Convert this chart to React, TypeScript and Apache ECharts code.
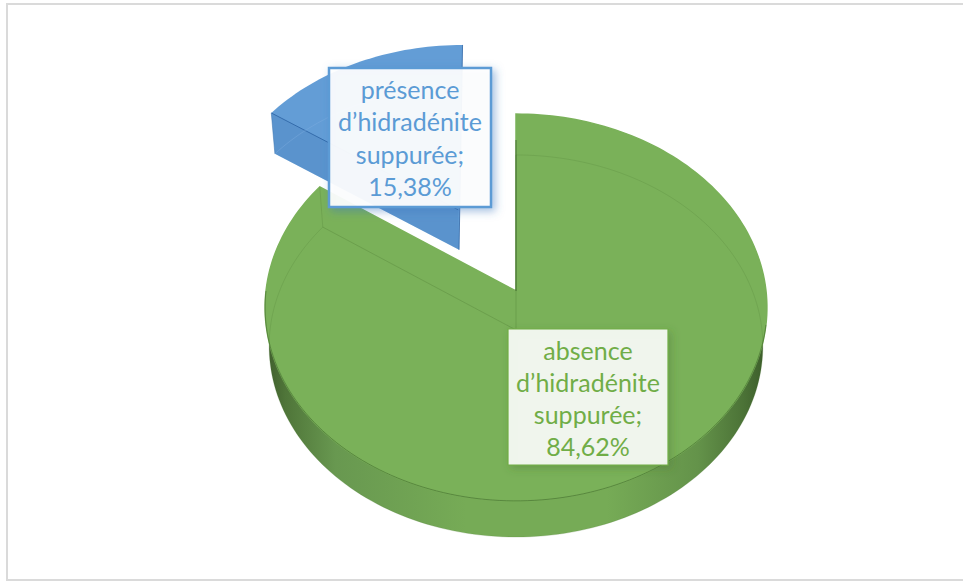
import React, { useEffect, useRef } from "react";
import * as echarts from "echarts";

// Share of patients with and without suppurative hidradenitis
const categories = ["absence\nd’hidradénite\nsuppurée", "présence\nd’hidradénite\nsuppurée"];
const values = [84.62, 15.38];
const exploded = [0, 0.5];
const faceColors = ["#7AB159", "#639DD6"];
const textColors = ["#70AD47", "#5B9BD5"];
const shadowColors = ["rgba(60,100,40,0.32)", "rgba(60,120,190,0.5)"];

// Perspective projection of the tilted disc: the top rim and the bottom rim
// have slightly different scales because the lower one is further from the eye.
const TOP = { cx: 516, cy: 291, a: 250, b: 192, k: 0.0852 };
const BOTTOM = { cx: 516, cy: 330, a: 246, b: 189.7, k: 0.0838 };
type Plane = typeof TOP;

// The wedge is pulled out about a degree off its bisector
const EXPLODE_TURN = (1 * Math.PI) / 180;

const project = (p: Plane, u: number, v: number): number[] => {
  const w = 1 - p.k * v;
  return [p.cx + (p.a * u) / w, p.cy + (p.b * v) / w];
};

// Angle in degrees, clockwise from twelve o'clock, with the slice's offset applied
const rim = (p: Plane, deg: number, du: number, dv: number) => {
  const t = (deg * Math.PI) / 180;
  return project(p, Math.sin(t) + du, -Math.cos(t) + dv);
};

const arc = (p: Plane, from: number, to: number, du: number, dv: number) => {
  const pts: number[][] = [];
  const steps = Math.max(2, Math.ceil(Math.abs(to - from) / 1.5));
  for (let i = 0; i <= steps; i++) pts.push(rim(p, from + ((to - from) * i) / steps, du, dv));
  return pts;
};

const LABEL_BOXES = [
  { x: 508, y: 329, w: 160, h: 136, alpha: 0.88, border: 1.2, textDy: 1, lineHeight: 32 },
  { x: 329, y: 68, w: 162, h: 139, alpha: 0.92, border: 2.5, textDy: 0, lineHeight: 32.3 },
];

const sideGradient = {
  type: "linear",
  x: 265,
  y: 0,
  x2: 768,
  y2: 0,
  global: true,
  colorStops: [
    { offset: 0, color: "#3E5C2C" },
    { offset: 0.04, color: "#4F7539" },
    { offset: 0.14, color: "#689850" },
    { offset: 0.4, color: "#76AB56" },
    { offset: 0.68, color: "#76AB56" },
    { offset: 0.86, color: "#64934A" },
    { offset: 0.95, color: "#4C7337" },
    { offset: 1, color: "#3A5A29" },
  ],
};

const total = values.reduce((s, v) => s + v, 0);

function renderSlice(params: any, api: any) {
  const i = params.dataIndex;
  const value = api.value(0);
  const before = values.slice(0, i).reduce((s, v) => s + v, 0);
  const start = (before / total) * 360;
  const end = ((before + value) / total) * 360;
  const mid = (((start + end) / 2) * Math.PI) / 180 - EXPLODE_TURN;
  const du = Math.sin(mid) * exploded[i];
  const dv = -Math.cos(mid) * exploded[i];

  const topApex = project(TOP, du, dv);
  const bottomApex = project(BOTTOM, du, dv);
  const topRim = arc(TOP, start, end, du, dv);
  const bottomRim = arc(BOTTOM, start, end, du, dv);
  const fill = faceColors[i];
  const children: any[] = [];

  const line = (points: number[][], stroke: string, lineWidth = 1) => ({
    type: "polyline",
    shape: { points },
    style: { stroke, lineWidth, fill: "none" },
  });

  if (i === 0) {
    // Outer wall, visible around the front of the disc
    const wallTop = arc(TOP, 60, 285, du, dv);
    const wallBottom = arc(BOTTOM, 60, 285, du, dv).reverse();
    children.push({
      type: "polygon",
      shape: { points: [...wallTop, ...wallBottom] },
      style: { fill: sideGradient },
    });
    children.push({
      type: "polygon",
      shape: { points: [topApex, ...topRim] },
      style: { fill, stroke: fill, lineWidth: 1.5 },
    });
    // Edges of the far rim showing through the translucent top
    const lastTop = topRim[topRim.length - 1];
    const lastBottom = bottomRim[bottomRim.length - 1];
    children.push(line(bottomRim, "rgba(75,120,50,0.2)"));
    children.push(line([lastTop, lastBottom], "rgba(75,120,50,0.22)"));
    children.push(line([lastBottom, bottomApex, bottomRim[0]], "rgba(75,120,50,0.3)"));
    children.push(line([[topApex[0], 140], topApex], "rgba(50,85,35,0.7)"));
    children.push(line(arc(TOP, 100, 270, du, dv), "rgba(60,100,40,0.55)"));
  } else {
    // Detached wedge: silhouette, then its radial wall and edges
    const lastTop = topRim[topRim.length - 1];
    children.push({
      type: "polygon",
      shape: { points: [...topRim, bottomApex, bottomRim[0]] },
      style: { fill },
    });
    children.push({
      type: "polygon",
      shape: { points: [topRim[0], topApex, bottomApex, bottomRim[0]] },
      style: { fill: "rgba(60,115,175,0.22)" },
    });
    children.push(line([topRim[0], topApex], "rgba(45,100,165,0.85)"));
    children.push(line([lastTop, bottomApex], "rgba(45,100,165,0.8)"));
    children.push(line([topRim[0], bottomRim[0]], "rgba(60,115,175,0.5)"));
    children.push(line(bottomRim, "rgba(130,175,225,0.4)"));
  }

  const box = LABEL_BOXES[i];
  children.push({
    type: "rect",
    shape: { x: box.x, y: box.y, width: box.w, height: box.h },
    style: {
      fill: `rgba(255,255,255,${box.alpha})`,
      stroke: textColors[i],
      lineWidth: box.border,
      shadowBlur: 9,
      shadowOffsetX: 3,
      shadowOffsetY: 3,
      shadowColor: shadowColors[i],
    },
  });
  children.push({
    type: "text",
    style: {
      text: `${categories[i]};\n${value.toFixed(2).replace(".", ",")}%`,
      x: box.x + box.w / 2,
      y: box.y + box.h / 2 + box.textDy,
      textAlign: "center",
      textVerticalAlign: "middle",
      fontFamily: "Lato",
      fontSize: 25,
      lineHeight: box.lineHeight,
      fill: textColors[i],
    },
  });

  return { type: "group", children };
}

export default function App() {
  const ref = useRef<HTMLDivElement>(null);

  useEffect(() => {
    document.body.style.margin = "0";
    const chart = echarts.init(ref.current!, null, { renderer: "svg" });
    chart.setOption({
      animation: false,
      backgroundColor: "#FFFFFF",
      graphic: [
        {
          type: "rect",
          z: -1,
          shape: { x: 7, y: 4, width: 975, height: 576 },
          style: { fill: "#FFFFFF", stroke: "#DADADA", lineWidth: 2 },
        },
      ],
      series: [
        {
          type: "custom",
          coordinateSystem: "none",
          renderItem: renderSlice,
          data: values,
          silent: true,
        },
      ],
    });
    return () => chart.dispose();
  }, []);

  return <div ref={ref} style={{ position: "absolute", left: 0, top: 0, width: 963, height: 581 }} />;
}
